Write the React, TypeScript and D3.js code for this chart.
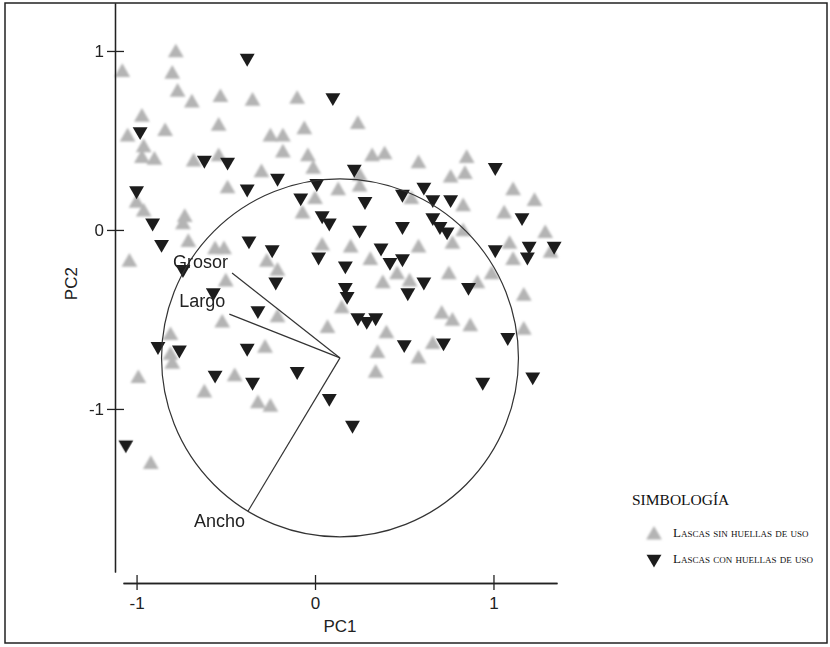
import React, { useEffect, useRef } from "react";
import * as d3 from "d3";

const width = 830;
const height = 647;

// PC1 / PC2 scores
const lascasSinHuellas: [number, number][] = [
  [-0.78, 0.99], [-1.08, 0.88], [-0.8, 0.87], [-0.77, 0.77], [-0.69, 0.71], [-0.53, 0.74], [-0.35, 0.72], [-0.1, 0.73],
  [-0.97, 0.63], [-1.05, 0.52], [-0.84, 0.55], [-0.54, 0.58], [-0.25, 0.52], [-0.18, 0.52], [-0.96, 0.46], [-0.97, 0.4],
  [-0.9, 0.39], [-0.54, 0.41], [-0.18, 0.43], [-0.68, 0.38], [-0.3, 0.32], [-0.49, 0.23], [-1.0, 0.15], [-0.96, 0.1],
  [-0.74, 0.03], [-0.73, 0.07], [-0.71, -0.07], [-0.56, -0.11], [-0.51, -0.11], [-1.04, -0.18], [-0.27, -0.18], [-0.21, -0.23],
  [-0.5, -0.29], [-0.52, -0.52], [-0.21, -0.49], [-0.81, -0.59], [-0.81, -0.7], [-0.8, -0.75], [-0.28, -0.66], [-0.99, -0.83],
  [-0.45, -0.82], [-0.62, -0.91], [-0.32, -0.97], [-0.25, -0.99], [-0.92, -1.31],
  [-0.04, 0.41], [0.24, 0.59], [-0.06, 0.56], [0.32, 0.41], [0.39, 0.42], [0.58, 0.37], [0.85, 0.4], [-0.01, 0.34],
  [0.25, 0.3], [0.76, 0.29], [0.84, 0.31], [0.13, 0.22], [0.25, 0.24], [0.0, 0.17], [0.54, 0.17], [0.83, 0.13],
  [1.11, 0.22], [1.23, 0.16], [1.06, 0.09], [-0.07, 0.09], [0.04, -0.09], [0.2, -0.1], [0.31, -0.17], [0.58, -0.1],
  [0.77, -0.08], [0.83, -0.01], [1.09, -0.08], [1.11, -0.17], [1.29, -0.02], [1.32, -0.13], [0.38, -0.3], [0.46, -0.25],
  [0.53, -0.29], [0.75, -0.25], [0.91, -0.3], [0.99, -0.25], [1.17, -0.37], [0.15, -0.44], [0.71, -0.47], [0.77, -0.51],
  [0.87, -0.54], [1.17, -0.56], [0.07, -0.55], [0.4, -0.58], [0.66, -0.64], [0.35, -0.69], [0.58, -0.72], [0.34, -0.8],
];

const lascasConHuellas: [number, number][] = [
  [-0.38, 0.96], [0.1, 0.74], [-0.98, 0.55], [-0.62, 0.39], [-0.49, 0.38], [-1.0, 0.22], [-0.38, 0.23], [-0.21, 0.29],
  [-0.08, 0.18], [-0.91, 0.04], [-0.86, -0.08], [-0.37, -0.06], [-0.24, -0.11], [0.22, 0.34], [0.01, 0.26], [0.28, 0.16],
  [0.49, 0.2], [0.61, 0.24], [0.66, 0.17], [0.76, 0.17], [1.01, 0.35], [0.04, 0.08], [0.08, 0.04], [0.25, 0.0],
  [0.49, 0.02], [0.66, 0.07], [0.7, 0.02], [0.74, -0.01], [1.16, 0.07], [0.37, -0.1], [0.42, -0.18], [0.49, -0.16],
  [0.02, -0.15], [0.17, -0.2], [0.61, -0.29], [1.01, -0.11], [1.2, -0.09], [1.19, -0.15], [1.34, -0.09], [0.17, -0.32],
  [0.18, -0.37], [0.86, -0.32], [0.24, -0.49], [0.29, -0.51], [0.34, -0.49], [0.5, -0.64], [0.72, -0.63], [1.08, -0.6],
  [0.94, -0.85], [1.22, -0.82], [0.08, -0.94], [-0.74, -0.22], [-0.22, -0.29], [-0.57, -0.35], [-0.32, -0.45], [-0.88, -0.65],
  [-0.76, -0.67], [-0.38, -0.66], [-0.56, -0.81], [-0.35, -0.85], [-0.1, -0.79], [0.21, -1.09], [-1.06, -1.2], [0.52, -0.35],
];

// loading vectors, drawn from the centre of the correlation circle
const variables = ["Grosor", "Largo", "Ancho"];
const vectorEndPC1 = [-0.465, -0.48, -0.375];
const vectorEndPC2 = [-0.24, -0.47, -1.57];
const circleCenter = [0.14, -0.715];
const circleRadius = 1;

const tickValues = [-1, 0, 1];
const legendLabels = ["Lascas sin huellas de uso", "Lascas con huellas de uso"];

const labelOffset: Record<string, { dx: number; dy: number }> = {
  Grosor: { dx: -4, dy: -5 },
  Largo: { dx: -4, dy: -7 },
  Ancho: { dx: -3, dy: 16 },
};

const x = d3.scaleLinear().domain([-1.076, 1.356]).range([123, 557]);
const y = d3.scaleLinear().domain([-1.911, 1.268]).range([572, 3]);
const xAxisY = 583;
const yAxisX = 115;

const upTri = d3.symbol().type(d3.symbolTriangle).size(108)();
const downTri = d3.symbol().type(d3.symbolTriangle).size(96)();

const sans = "'Liberation Sans', Arial, sans-serif";
const serif = "'Liberation Serif', 'Times New Roman', serif";

export default function App() {
  const xAxisRef = useRef<SVGGElement>(null);
  const xAxisInRef = useRef<SVGGElement>(null);
  const yAxisRef = useRef<SVGGElement>(null);
  const yAxisInRef = useRef<SVGGElement>(null);

  useEffect(() => {
    const fmt = (d: any) => String(d);
    // ticks cross the axis line: one axis draws the outer half with labels, the other the inner half
    const xAxis = d3.axisBottom(x).tickValues(tickValues).tickFormat(fmt).tickSize(7).tickSizeOuter(0).tickPadding(7);
    const xIn = d3.axisBottom(x).tickValues(tickValues).tickFormat(() => "").tickSize(-8).tickSizeOuter(0);
    const yAxis = d3.axisLeft(y).tickValues(tickValues).tickFormat(fmt).tickSize(8).tickSizeOuter(0).tickPadding(3);
    const yIn = d3.axisLeft(y).tickValues(tickValues).tickFormat(() => "").tickSize(-9).tickSizeOuter(0);

    const style = (g: any) => {
      g.selectAll("path, line").attr("stroke", "#222").attr("stroke-width", 1.3);
      g.selectAll("text").attr("font-family", sans).attr("font-size", 17).attr("fill", "#222");
    };
    d3.select(xAxisRef.current).call(xAxis).call(style);
    d3.select(xAxisInRef.current).call(xIn).call(style);
    d3.select(yAxisRef.current).call(yAxis).call(style);
    d3.select(yAxisInRef.current).call(yIn).call(style);
  }, []);

  const cx = x(circleCenter[0]);
  const cy = y(circleCenter[1]);

  return (
    <svg
      width={width}
      height={height}
      style={{ position: "absolute", left: 0, top: 0, background: "#fff" }}
    >
      <defs>
        <filter id="soft" x="-30%" y="-30%" width="160%" height="160%">
          <feGaussianBlur stdDeviation="0.8" />
        </filter>
        <filter id="softer" x="-30%" y="-30%" width="160%" height="160%">
          <feGaussianBlur stdDeviation="0.35" />
        </filter>
      </defs>
      <rect x={5} y={3} width={822} height={640} fill="#fff" stroke="#222" strokeWidth={1.5} />

      <g filter="url(#soft)">
        {lascasSinHuellas.map((d, i) => (
          <path key={i} d={upTri!} transform={`translate(${x(d[0])},${y(d[1])})`} fill="#b4b4b4" />
        ))}
      </g>
      <g filter="url(#softer)">
        {lascasConHuellas.map((d, i) => (
          <path key={i} d={downTri!} transform={`translate(${x(d[0])},${y(d[1])}) rotate(180)`} fill="#1f1f1f" />
        ))}
      </g>

      <ellipse
        cx={cx}
        cy={cy}
        rx={x(circleRadius) - x(0)}
        ry={y(0) - y(circleRadius)}
        fill="none"
        stroke="#333"
        strokeWidth={1.2}
      />
      {variables.map((v, i) => {
        const ex = x(vectorEndPC1[i]);
        const ey = y(vectorEndPC2[i]);
        return (
          <g key={v}>
            <line x1={cx} y1={cy} x2={ex} y2={ey} stroke="#333" strokeWidth={1.2} />
            <text
              x={ex + labelOffset[v].dx}
              y={ey + labelOffset[v].dy}
              textAnchor="end"
              fontFamily={sans}
              fontSize={18}
              fill="#222"
            >
              {v}
            </text>
          </g>
        );
      })}

      <g ref={xAxisRef} transform={`translate(0,${xAxisY})`} />
      <g ref={xAxisInRef} transform={`translate(0,${xAxisY})`} />
      <g ref={yAxisRef} transform={`translate(${yAxisX},0)`} />
      <g ref={yAxisInRef} transform={`translate(${yAxisX},0)`} />

      <text x={x(0.14)} y={632} textAnchor="middle" fontFamily={sans} fontSize={17} fill="#222">
        PC1
      </text>
      <text
        transform={`translate(77,${y(-0.3)}) rotate(-90)`}
        textAnchor="middle"
        fontFamily={sans}
        fontSize={17}
        fill="#222"
      >
        PC2
      </text>

      <g>
        <text x={632} y={505} fontFamily={serif} fontSize={15.5} fill="#111">
          SIMBOLOGÍA
        </text>
        <path d={upTri!} transform="translate(654,535)" fill="#b4b4b4" filter="url(#soft)" />
        <text x={673} y={537} fontFamily={serif} fontSize={13} fill="#111" style={{ fontVariant: "small-caps" }}>
          {legendLabels[0]}
        </text>
        <path d={downTri!} transform="translate(654,559) rotate(180)" fill="#1f1f1f" filter="url(#softer)" />
        <text x={673} y={563} fontFamily={serif} fontSize={13} fill="#111" style={{ fontVariant: "small-caps" }}>
          {legendLabels[1]}
        </text>
      </g>
    </svg>
  );
}
